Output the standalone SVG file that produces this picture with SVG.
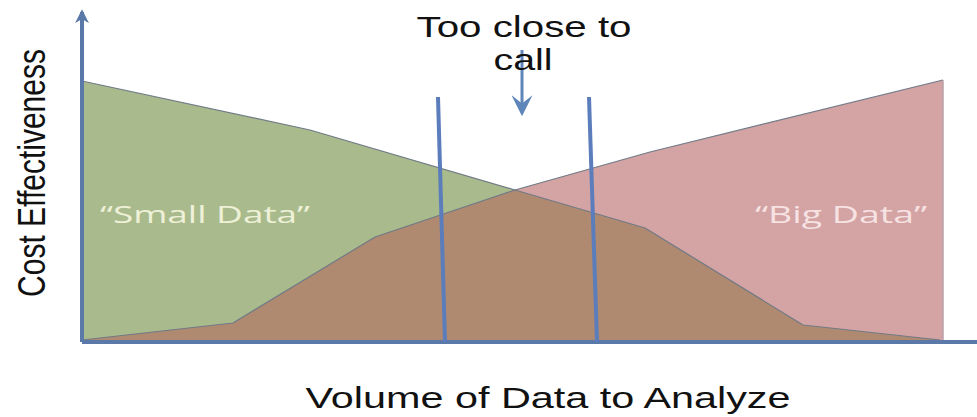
<svg xmlns="http://www.w3.org/2000/svg" width="977" height="417" viewBox="0 0 977 417">
<style>
.lbl{font-family:"Liberation Sans",Arial,sans-serif;fill:#111;}
.cal{font-family:"Open Sans","Noto Sans",sans-serif;}
.edge{fill:none;stroke:#707a86;stroke-width:1.2;stroke-linejoin:round;}
.axis{stroke:#5a78a8;stroke-width:4;fill:none;}
.bar{stroke:#5b7dbb;stroke-width:4;fill:none;}
</style>
<defs>
<marker id="ah" viewBox="0 0 10 10" refX="8" refY="5" markerWidth="3.5" markerHeight="3.5" orient="auto" markerUnits="strokeWidth">
<path d="M0,0 L10,5 L0,10 L3,5 Z" fill="#5a78a8"/>
</marker>
<marker id="ah2" viewBox="0 0 10 10" refX="8" refY="5" markerWidth="7" markerHeight="7" orient="auto" markerUnits="strokeWidth">
<path d="M0,0 L10,5 L0,10 L4,5 Z" fill="#5f86b8"/>
</marker>
</defs>
<rect width="977" height="417" fill="#ffffff"/>
<g id="small-data">
<polygon points="82,81 310,130 515,190 645,228 803,325 940,340 940,342 82,342" fill="#a9bb8c"/>
</g>
<g id="big-data">
<polygon points="82,340 233,323 375,237 515,190 650,152 943,80 943,342 82,342" fill="#d4a3a4"/>
</g>
<g id="overlap">
<polygon points="82,340 233,323 375,237 515,190 645,228 803,325 940,340 940,342 82,342" fill="#b08a70"/>
<polyline class="edge" points="82,81 310,130 515,190 645,228 803,325 940,340"/>
<polyline class="edge" points="82,340 233,323 375,237 515,190 650,152 943,80"/>
<line x1="943" y1="80" x2="943" y2="342" stroke="#b8a0a8" stroke-width="1.5"/>
</g>
<g id="connectors">
<line class="axis" x1="82" y1="342" x2="82" y2="12" marker-end="url(#ah)"/>
<line class="axis" x1="82" y1="342" x2="977" y2="342"/>
<line class="bar" x1="438" y1="97" x2="445" y2="342"/>
<line class="bar" x1="589" y1="97" x2="597" y2="342"/>
<line x1="522" y1="50" x2="522" y2="112" stroke="#5f86b8" stroke-width="3" marker-end="url(#ah2)"/>
</g>
<g id="labels">
<text class="lbl" x="524" y="37" font-size="29" text-anchor="middle" textLength="215" lengthAdjust="spacingAndGlyphs">Too close to</text>
<text class="lbl" x="523" y="70" font-size="29" text-anchor="middle" textLength="59" lengthAdjust="spacingAndGlyphs">call</text>
<text class="lbl" x="548" y="408" font-size="29" text-anchor="middle" textLength="485" lengthAdjust="spacingAndGlyphs">Volume of Data to Analyze</text>
<text class="lbl" font-size="30" text-anchor="middle" transform="translate(45,173) scale(1.3,1) rotate(-90)">Cost Effectiveness</text>
<text class="cal" x="100" y="223" font-size="24" fill="#eef0d8" textLength="210" lengthAdjust="spacingAndGlyphs">“Small Data”</text>
<text class="cal" x="755" y="223" font-size="24" fill="#f6e2e2" textLength="172" lengthAdjust="spacingAndGlyphs">“Big Data”</text>
</g>
</svg>
